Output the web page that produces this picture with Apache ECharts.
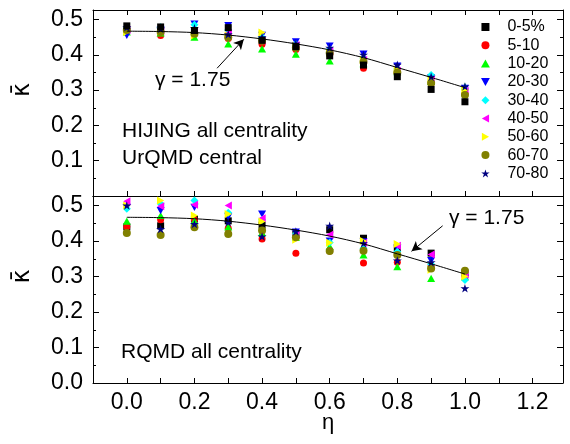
<!DOCTYPE html>
<html><head><meta charset="utf-8">
<script src="https://cdn.jsdelivr.net/npm/echarts@6/dist/echarts.min.js"></script>
<style>html,body{margin:0;padding:0;background:#fff}#c{width:570px;height:444px}</style>
</head><body><div id="c"></div>
<script>
// ---------------- data ----------------
const eta = [0.0, 0.1, 0.2, 0.3, 0.4, 0.5, 0.6, 0.7, 0.8, 0.9, 1.0];
const centralities = ['0-5%', '5-10', '10-20', '20-30', '30-40', '40-50', '50-60', '60-70', '70-80'];
const fitEta = [0.0, 0.1, 0.2, 0.3, 0.4, 0.5, 0.6, 0.7, 0.8, 0.9, 1.0];
const fitKappa = [0.467, 0.466, 0.463, 0.456, 0.445, 0.431, 0.414, 0.392, 0.364, 0.336, 0.307];
const xTicks = ['0.0', '0.2', '0.4', '0.6', '0.8', '1.0', '1.2'];
const yTicks = ['0.0', '0.1', '0.2', '0.3', '0.4', '0.5'];

// HIJING / UrQMD panel (top)
const hij_0_5   = [0.482, 0.479, 0.469, 0.477, 0.441, 0.423, 0.397, 0.371, 0.338, 0.302, 0.267];
const hij_5_10  = [0.466, 0.455, 0.458, 0.446, 0.430, 0.415, 0.400, 0.362, 0.348, 0.319, 0.290];
const hij_10_20 = [0.465, 0.462, 0.450, 0.431, 0.417, 0.402, 0.383, 0.375, 0.352, 0.325, 0.310];
const hij_20_30 = [0.455, 0.470, 0.487, 0.483, 0.455, 0.437, 0.425, 0.402, 0.368, 0.335, 0.305];
const hij_30_40 = [0.476, 0.478, 0.485, 0.470, 0.450, 0.430, 0.415, 0.390, 0.360, 0.343, 0.305];
const hij_40_50 = [0.470, 0.468, 0.466, 0.462, 0.440, 0.428, 0.410, 0.385, 0.355, 0.330, 0.298];
const hij_50_60 = [0.465, 0.467, 0.455, 0.455, 0.463, 0.426, 0.405, 0.385, 0.357, 0.330, 0.300];
const hij_60_70 = [0.470, 0.465, 0.460, 0.450, 0.440, 0.420, 0.405, 0.380, 0.350, 0.320, 0.286];
const hij_70_80 = [0.478, 0.474, 0.475, 0.458, 0.450, 0.432, 0.420, 0.400, 0.372, 0.338, 0.310];

// RQMD panel (bottom)
const rq_0_5   = [0.440, 0.443, 0.462, 0.457, 0.445, 0.420, 0.432, 0.408, 0.380, 0.366, 0.310];
const rq_5_10  = [0.440, 0.460, 0.460, 0.436, 0.406, 0.366, 0.372, 0.338, 0.340, 0.330, 0.300];
const rq_10_20 = [0.456, 0.472, 0.457, 0.440, 0.424, 0.410, 0.385, 0.361, 0.328, 0.295, 0.300];
const rq_20_30 = [0.495, 0.486, 0.495, 0.468, 0.476, 0.425, 0.400, 0.398, 0.380, 0.345, 0.295];
const rq_30_40 = [0.491, 0.505, 0.514, 0.480, 0.460, 0.420, 0.396, 0.380, 0.370, 0.335, 0.290];
const rq_40_50 = [0.512, 0.498, 0.502, 0.500, 0.464, 0.418, 0.418, 0.395, 0.387, 0.362, 0.305];
const rq_50_60 = [0.500, 0.514, 0.472, 0.476, 0.455, 0.404, 0.395, 0.400, 0.392, 0.319, 0.300];
const rq_60_70 = [0.423, 0.417, 0.439, 0.420, 0.430, 0.411, 0.372, 0.373, 0.361, 0.323, 0.316];
const rq_70_80 = [0.500, 0.434, 0.448, 0.453, 0.413, 0.427, 0.443, 0.394, 0.345, 0.340, 0.267];

const hijingSets = [hij_0_5, hij_5_10, hij_10_20, hij_20_30, hij_30_40, hij_40_50, hij_50_60, hij_60_70, hij_70_80];
const rqmdSets = [rq_0_5, rq_5_10, rq_10_20, rq_20_30, rq_30_40, rq_40_50, rq_50_60, rq_60_70, rq_70_80];

// ---------------- styles ----------------
const FONT = 'Liberation Sans, Arial, sans-serif';
const colors = ['#000000', '#ff0000', '#00ff00', '#0000ff', '#00ffff', '#ff00ff', '#ffff00', '#808000', '#000080'];
const STAR = 'path://M5,0L6.12,3.45L9.76,3.45L6.82,5.59L7.94,9.05L5,6.91L2.06,9.05L3.18,5.59L0.24,3.45L3.88,3.45Z';
const symbols = [
  'path://M0,0L10,0L10,10L0,10Z',   // square
  'circle',
  'path://M5,0L10,9L0,9Z',          // up triangle
  'path://M0,0L10,0L5,9Z',          // down triangle
  'path://M5,0L10,5L5,10L0,5Z',     // diamond
  'path://M9,0L9,10L0,5Z',          // left triangle
  'path://M0,0L0,10L9,5Z',          // right triangle
  'circle',                         // hexagon-like dot
  STAR
];
const sizes = [7, 7, 8, 8, 8, 8, 8, 8, 9];

const XMIN = -0.1, XMAX = 1.29, YMIN = 0, YMAX = 0.527;

function xLab(v) {
  const r = Math.round(v * 10);
  if (Math.abs(v * 10 - r) > 1e-6 || r % 2 !== 0) return '';
  const s = (r / 10).toFixed(1);
  return xTicks.indexOf(s) >= 0 ? s : '';
}
function yLabFactory(hideZero) {
  return function (v) {
    const r = Math.round(v * 10);
    if (Math.abs(v * 10 - r) > 1e-6) return '';
    if (hideZero && r === 0) return '';
    const s = (r / 10).toFixed(1);
    return yTicks.indexOf(s) >= 0 ? s : '';
  };
}

function xAxisDef(grid, pos, showLabel, showTick) {
  return {
    type: 'value', gridIndex: grid, position: pos, min: XMIN, max: XMAX, interval: 0.1,
    axisLine: { show: true, onZero: false, lineStyle: { color: '#000', width: 1 } },
    axisTick: { show: showTick, inside: true, length: 5, lineStyle: { color: '#000' } },
    axisLabel: { show: showLabel, formatter: xLab, color: '#000', fontSize: 23, fontFamily: FONT, margin: 8,
      showMinLabel: true, showMaxLabel: true, hideOverlap: false },
    splitLine: { show: false },
    name: (showLabel ? 'η' : ''), nameLocation: 'middle', nameGap: 29, nameMoveOverlap: false,
    nameTextStyle: { color: '#000', fontSize: 22, fontFamily: FONT }
  };
}
function yAxisDef(grid, pos, showLabel, hideZero) {
  return {
    type: 'value', gridIndex: grid, position: pos, min: YMIN, max: YMAX, interval: 0.1,
    axisLine: { show: true, onZero: false, lineStyle: { color: '#000', width: 1 } },
    axisTick: { show: true, inside: true, length: 6, lineStyle: { color: '#000' } },
    minorTick: { show: true, splitNumber: 2, length: 3, lineStyle: { color: '#000' } },
    axisLabel: { show: showLabel, formatter: yLabFactory(hideZero), color: '#000', fontSize: 23, fontFamily: FONT, margin: 10,
      showMinLabel: true, showMaxLabel: true, hideOverlap: false },
    splitLine: { show: false },
    name: (showLabel ? 'κ\u0304' : ''), nameLocation: 'middle', nameGap: 58, nameRotate: 90,
    nameTextStyle: { color: '#000', fontSize: 24, fontFamily: 'DejaVu Sans, sans-serif', padding: [0, 0, 0, 26] }
  };
}

const series = [];
function addPanel(sets, xi, yi, topPanel) {
  sets.forEach(function (vals, i) {
    series.push({
      type: 'scatter', name: centralities[i], xAxisIndex: xi, yAxisIndex: yi,
      symbol: symbols[i], symbolSize: sizes[i], symbolKeepAspect: true,
      itemStyle: { color: colors[i], opacity: 1 },
      z: (topPanel && i === 0) ? 4 : 3,
      data: eta.map(function (e, k) { return [e, vals[k]]; })
    });
  });
}
addPanel(hijingSets, 0, 0, true);
addPanel(rqmdSets, 2, 2, false);

function fitSeries(xi, yi, arrowFrom, arrowTo) {
  return {
    type: 'line', name: 'fit', xAxisIndex: xi, yAxisIndex: yi, smooth: 0.3,
    showSymbol: false, symbol: 'none', z: 5,
    lineStyle: { color: '#000', width: 1 },
    data: fitEta.map(function (e, k) { return [e, fitKappa[k]]; }),
    markLine: {
      silent: true, animation: false, symbol: ['none', 'arrow'], symbolSize: [8, 10],
      lineStyle: { color: '#000', width: 1, type: 'solid' }, label: { show: false },
      data: [[{ coord: arrowFrom }, { coord: arrowTo }]]
    }
  };
}
series.push(fitSeries(0, 0, [0.267, 0.362], [0.346, 0.444]));
series.push(fitSeries(2, 2, [0.934, 0.443], [0.842, 0.371]));

const option = {
  animation: false,
  backgroundColor: '#fff',
  grid: [
    { left: 93, right: 7, top: 10, height: 186, outerBoundsMode: 'none', containLabel: false },
    { left: 93, right: 7, top: 196, height: 187, outerBoundsMode: 'none', containLabel: false }
  ],
  xAxis: [
    xAxisDef(0, 'bottom', false, true),
    xAxisDef(0, 'top', false, true),
    xAxisDef(1, 'bottom', true, true),
    xAxisDef(1, 'top', false, false)
  ],
  yAxis: [
    yAxisDef(0, 'left', true, true),
    Object.assign(yAxisDef(0, 'right', false, true), { name: '' }),
    yAxisDef(1, 'left', true, false),
    Object.assign(yAxisDef(1, 'right', false, false), { name: '' })
  ],
  legend: {
    data: centralities, orient: 'vertical', left: 476, top: 14,
    itemWidth: 34, itemHeight: 8, itemGap: 2.3, symbolKeepAspect: true,
    textStyle: { color: '#000', fontSize: 16, fontFamily: FONT, lineHeight: 16 },
    selectedMode: false
  },
  graphic: [
    { type: 'text', left: 155, top: 70, style: { text: 'γ = 1.75', font: '21px ' + FONT, fill: '#000' } },
    { type: 'text', left: 122, top: 121, style: { text: 'HIJING all centrality', font: '21px ' + FONT, fill: '#000' } },
    { type: 'text', left: 122, top: 148, style: { text: 'UrQMD central', font: '21px ' + FONT, fill: '#000' } },
    { type: 'text', left: 449, top: 208, style: { text: 'γ = 1.75', font: '21px ' + FONT, fill: '#000' } },
    { type: 'text', left: 121, top: 342, style: { text: 'RQMD all centrality', font: '21px ' + FONT, fill: '#000' } }
  ],
  series: series
};

const chart = echarts.init(document.getElementById('c'), null, { renderer: 'canvas' });
chart.setOption(option);
</script>
</body></html>
